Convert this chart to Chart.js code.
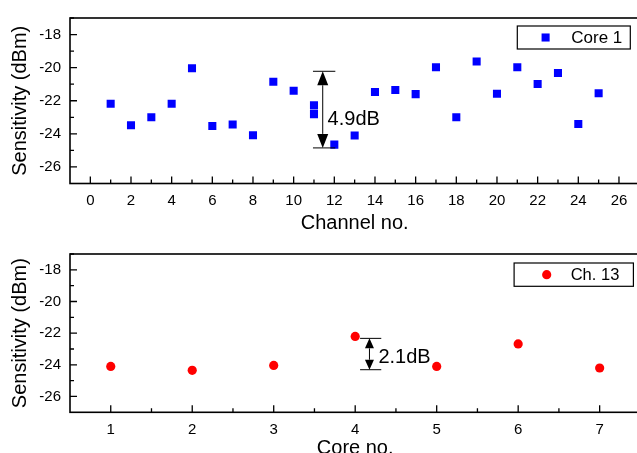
<!DOCTYPE html>
<html>
<head>
<meta charset="utf-8">
<title>Sensitivity per channel and per core</title>
<script src="https://cdn.jsdelivr.net/npm/chart.js@4.4.1/dist/chart.umd.min.js"></script>
<style>
    html, body { margin: 0; padding: 0; background: #fff; width: 637px; height: 453px; overflow: hidden; }
    .panel { position: absolute; left: 0; width: 645px; }
    #topPanel { top: 0; height: 236px; }
    #bottomPanel { top: 236px; height: 230px; }
</style>
</head>
<body>
<div class="panel" id="topPanel"><canvas id="channelChart"></canvas></div>
<div class="panel" id="bottomPanel"><canvas id="coreChart"></canvas></div>

<script>
/* ── Data ── */
// top panel: every channel of core 1 (channel 11 was measured twice)
const channelNo = [1, 2, 3, 4, 5, 6, 7, 8, 9, 10, 11, 11, 12, 13, 14, 15, 16, 17, 18, 19, 20, 21, 22, 23, 24, 25];
const core1Sensitivity = [-22.18, -23.48, -23.0, -22.18, -20.04, -23.53, -23.43, -24.08, -20.85, -21.4,
    -22.28, -22.81, -24.65, -24.1, -21.47, -21.35, -21.6, -19.98, -23.0, -19.63,
    -21.58, -19.98, -20.99, -20.32, -23.41, -21.55];

// bottom panel: channel 13 on each of the 7 cores
const coreNo = [1, 2, 3, 4, 5, 6, 7];
const ch13Sensitivity = [-24.1, -24.35, -24.04, -22.21, -24.1, -22.68, -24.2];

// tick labels
const sensitivityTicks = [-26, -24, -22, -20, -18];
const channelTicks = [0, 2, 4, 6, 8, 10, 12, 14, 16, 18, 20, 22, 24, 26];
const coreTicks = [1, 2, 3, 4, 5, 6, 7];

const FONT = '"Liberation Sans", Arial, sans-serif';
const tickFont = { family: FONT, size: 15 };
const titleFont = { family: FONT, size: 20 };

/* ── Plugins ── */
// Origin-style frame with inward major / minor ticks
const frameTicks = {
    id: 'frameTicks',
    beforeDatasetsDraw(chart, args, opts) {
        const { ctx, chartArea: a, scales: { x, y } } = chart;
        ctx.save();
        ctx.strokeStyle = '#000';
        ctx.lineWidth = 1.3;
        ctx.beginPath();
        const xTick = (v, len) => {
            const px = x.getPixelForValue(v);
            ctx.moveTo(px, a.bottom);
            ctx.lineTo(px, a.bottom - len);
        };
        const yTick = (v, len) => {
            const py = y.getPixelForValue(v);
            ctx.moveTo(a.left, py);
            ctx.lineTo(a.left + len, py);
        };
        opts.xMajor.forEach(v => xTick(v, 7));
        opts.xMinor.forEach(v => xTick(v, 4));
        opts.yMajor.forEach(v => yTick(v, 7));
        opts.yMinor.forEach(v => yTick(v, 4));
        ctx.stroke();
        ctx.lineWidth = 1.6;
        ctx.strokeRect(a.left, a.top, a.right - a.left, a.bottom - a.top);
        ctx.restore();
    }
};

// double arrow with end bars and a dB label
const spanMarker = {
    id: 'spanMarker',
    afterDatasetsDraw(chart, args, s) {
        const { ctx, scales: { x, y } } = chart;
        const yTop = y.getPixelForValue(s.to);
        const yBot = y.getPixelForValue(s.from);
        const xa = x.getPixelForValue(s.x);
        const hw = s.headW / 2;
        ctx.save();
        ctx.strokeStyle = '#000';
        ctx.fillStyle = '#000';
        ctx.lineWidth = 1;
        ctx.beginPath();
        ctx.moveTo(x.getPixelForValue(s.barFrom), yTop);
        ctx.lineTo(x.getPixelForValue(s.barTo), yTop);
        ctx.moveTo(x.getPixelForValue(s.barFrom), yBot);
        ctx.lineTo(x.getPixelForValue(s.barTo), yBot);
        ctx.moveTo(xa, yTop + s.head);
        ctx.lineTo(xa, yBot - s.head);
        ctx.stroke();
        ctx.beginPath();
        ctx.moveTo(xa, yTop);
        ctx.lineTo(xa - hw, yTop + s.head);
        ctx.lineTo(xa + hw, yTop + s.head);
        ctx.closePath();
        ctx.moveTo(xa, yBot);
        ctx.lineTo(xa - hw, yBot - s.head);
        ctx.lineTo(xa + hw, yBot - s.head);
        ctx.closePath();
        ctx.fill();
        ctx.font = '20px ' + FONT;
        ctx.textBaseline = 'alphabetic';
        ctx.textAlign = 'left';
        ctx.fillText(s.text, x.getPixelForValue(s.textX), y.getPixelForValue(s.textY));
        ctx.restore();
    }
};

// boxed legend in the upper right corner
const boxLegend = {
    id: 'boxLegend',
    afterDraw(chart, args, o) {
        const { ctx, chartArea: a } = chart;
        const ds = chart.data.datasets[0];
        const left = a.right - o.offsetRight;
        const top = a.top + o.offsetTop;
        const cy = top + o.height / 2;
        ctx.save();
        ctx.fillStyle = '#fff';
        ctx.fillRect(left, top, o.width, o.height);
        ctx.strokeStyle = '#000';
        ctx.lineWidth = 1.2;
        ctx.strokeRect(left, top, o.width, o.height);
        ctx.fillStyle = ds.backgroundColor;
        const mx = left + o.markerX;
        if (ds.pointStyle === 'rect') {
            const side = ds.pointRadius * Math.SQRT2;
            ctx.fillRect(mx - side / 2, cy - side / 2, side, side);
        } else {
            ctx.beginPath();
            ctx.arc(mx, cy, ds.pointRadius, 0, Math.PI * 2);
            ctx.fill();
        }
        ctx.fillStyle = '#000';
        ctx.font = o.fontSize + 'px ' + FONT;
        ctx.textBaseline = 'middle';
        ctx.textAlign = 'left';
        ctx.fillText(ds.label, left + o.textX, cy + 1);
        ctx.restore();
    }
};

/* ── Options builder ── */
function buildOptions(cfg) {
    return {
        responsive: true,
        maintainAspectRatio: false,
        animation: false,
        events: [],
        layout: { padding: { top: cfg.padTop, right: 3, left: 0, bottom: 0 } },
        plugins: {
            legend: { display: false },
            tooltip: { enabled: false },
            frameTicks: cfg.ticks,
            spanMarker: cfg.span,
            boxLegend: cfg.legend
        },
        scales: {
            x: {
                type: 'linear',
                min: cfg.xMin,
                max: cfg.xMax,
                grid: { display: false, drawTicks: false },
                border: { display: false },
                afterBuildTicks: s => { s.ticks = cfg.xTicks.map(v => ({ value: v })); },
                afterFit: s => { s.height = cfg.xAxisHeight; },
                ticks: { color: '#000', font: tickFont, padding: 8.5, maxRotation: 0, autoSkip: false },
                title: {
                    display: true, text: cfg.xTitle, color: '#000', font: titleFont,
                    padding: { top: 0, bottom: cfg.xTitlePad }
                }
            },
            y: {
                type: 'linear',
                min: -27,
                max: -17,
                grid: { display: false, drawTicks: false },
                border: { display: false },
                afterBuildTicks: s => { s.ticks = sensitivityTicks.map(v => ({ value: v })); },
                afterFit: s => { s.width = 70; },
                ticks: { color: '#000', font: tickFont, padding: 9 },
                title: {
                    display: true, text: 'Sensitivity (dBm)', color: '#000', font: titleFont,
                    padding: { top: 8, bottom: 0 }
                }
            }
        }
    };
}

/* ── Charts ── */
function initChannelChart() {
    const ctx = document.getElementById('channelChart');
    new Chart(ctx, {
        type: 'scatter',
        data: {
            datasets: [{
                label: 'Core 1',
                data: channelNo.map((c, i) => ({ x: c, y: core1Sensitivity[i] })),
                pointStyle: 'rect',
                pointRadius: 5.7,
                backgroundColor: '#0000ff',
                borderWidth: 0
            }]
        },
        options: buildOptions({
            padTop: 15,
            xMin: -1, xMax: 27,
            xTicks: channelTicks,
            xAxisHeight: 52.5,
            xTitle: 'Channel no.',
            xTitlePad: 0.5,
            ticks: {
                xMajor: channelTicks,
                xMinor: channelTicks.slice(0, -1).map(v => v + 1),
                yMajor: sensitivityTicks,
                yMinor: sensitivityTicks.map(v => v + 1)
            },
            span: { from: -24.85, to: -20.22, x: 11.43, barFrom: 10.95, barTo: 12.05,
                    head: 14, headW: 11, text: '4.9dB', textX: 11.67, textY: -23.47 },
            legend: { offsetRight: 122, offsetTop: 8, width: 113, height: 23,
                      markerX: 28.3, textX: 54, fontSize: 17 }
        }),
        plugins: [frameTicks, spanMarker, boxLegend]
    });
}

function initCoreChart() {
    const ctx = document.getElementById('coreChart');
    new Chart(ctx, {
        type: 'scatter',
        data: {
            datasets: [{
                label: 'Ch. 13',
                data: coreNo.map((c, i) => ({ x: c, y: ch13Sensitivity[i] })),
                pointStyle: 'circle',
                pointRadius: 4.6,
                backgroundColor: '#ff0000',
                borderWidth: 0
            }]
        },
        options: buildOptions({
            padTop: 6.7,
            xMin: 0.5, xMax: 7.5,
            xTicks: coreTicks,
            xAxisHeight: 53.7,
            xTitle: 'Core no.',
            xTitlePad: 6,
            ticks: {
                xMajor: coreTicks,
                xMinor: coreTicks.slice(0, -1).map(v => v + 0.5),
                yMajor: sensitivityTicks,
                yMinor: sensitivityTicks.map(v => v + 1)
            },
            span: { from: -24.31, to: -22.33, x: 4.175, barFrom: 4.06, barTo: 4.32,
                    head: 10, headW: 9, text: '2.1dB', textX: 4.285, textY: -23.87 },
            legend: { offsetRight: 126.3, offsetTop: 9, width: 119.3, height: 23.3,
                      markerX: 32.6, textX: 56.6, fontSize: 16.5 }
        }),
        plugins: [frameTicks, spanMarker, boxLegend]
    });
}

initChannelChart();
initCoreChart();
</script>
</body>
</html>
